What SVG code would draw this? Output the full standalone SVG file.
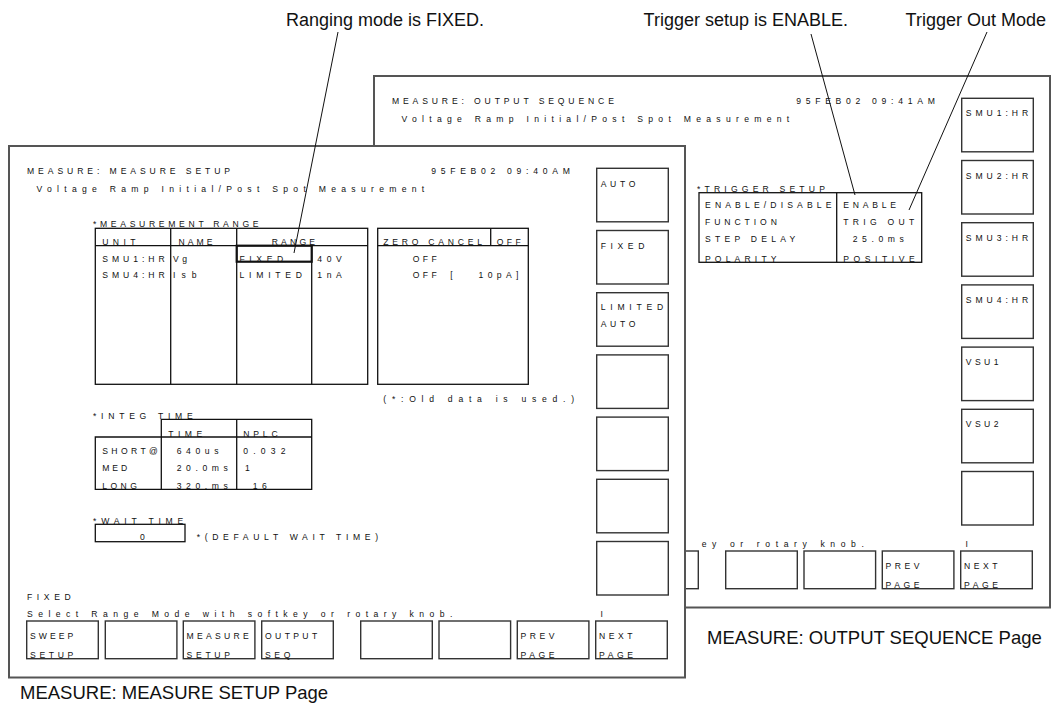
<svg xmlns="http://www.w3.org/2000/svg" width="1054" height="711" viewBox="0 0 1054 711">
<style>
.s{font-family:"Liberation Sans",Arial,sans-serif;font-size:8.6px;fill:#111}
.a{font-family:"Liberation Sans",Arial,sans-serif;font-size:18px;fill:#111}
.c{font-family:"Liberation Sans",Arial,sans-serif;font-size:18.5px;fill:#111}
.panel{fill:#fff;stroke:#555;stroke-width:2}
.ln{fill:none;stroke:#111;stroke-width:1.3}
.key{fill:#fff;stroke:#333;stroke-width:1.4}
.hl{fill:none;stroke:#111;stroke-width:2.2}
.lead{stroke:#111;stroke-width:1;fill:none}
</style>
<rect width="1054" height="711" fill="#fff"/>

<!-- Back panel: MEASURE: OUTPUT SEQUENCE -->
<g id="panel-output-sequence">
<rect class="panel" x="374" y="76" width="676" height="531.5"/>
<text class="s" x="392" y="104" textLength="221.9">MEASURE: OUTPUT SEQUENCE</text>
<text class="s" x="796.2" y="104" textLength="138.6">95FEB02 09:41AM</text>
<text class="s" x="401.4" y="121.7" textLength="387.8">Voltage Ramp Initial/Post Spot Measurement</text>
<g id="trigger-setup">
<text class="s" x="697" y="192.3" textLength="127.9">*TRIGGER SETUP</text>
<rect class="ln" x="699" y="192.7" width="222.7" height="69.6"/>
<line class="ln" x1="836.7" y1="192.7" x2="836.7" y2="262.3"/>
<text class="s" x="705" y="208.3" textLength="126.5">ENABLE/DISABLE</text>
<text class="s" x="705" y="225" textLength="71.9">FUNCTION</text>
<text class="s" x="705" y="241.7" textLength="90.3">STEP DELAY</text>
<text class="s" x="705" y="261.8" textLength="71.5">POLARITY</text>
<text class="s" x="843.3" y="208.3" textLength="52.7">ENABLE</text>
<text class="s" x="843.3" y="225" textLength="71">TRIG OUT</text>
<text class="s" x="852.7" y="241.7" textLength="51.2">25.0ms</text>
<text class="s" x="843.3" y="261.8" textLength="71.5">POSITIVE</text>
</g>
<g id="back-side-keys">
<rect class="key" x="961.7" y="98.3" width="71.6" height="53.5"/>
<text class="s" x="965.7" y="116.3" textLength="62.5">SMU1:HR</text>
<rect class="key" x="961.7" y="160.5" width="71.6" height="53.5"/>
<text class="s" x="965.7" y="178.5" textLength="62.5">SMU2:HR</text>
<rect class="key" x="961.7" y="222.7" width="71.6" height="53.5"/>
<text class="s" x="965.7" y="240.7" textLength="62.5">SMU3:HR</text>
<rect class="key" x="961.7" y="284.9" width="71.6" height="53.5"/>
<text class="s" x="965.7" y="302.9" textLength="62.5">SMU4:HR</text>
<rect class="key" x="961.7" y="347.1" width="71.6" height="53.5"/>
<text class="s" x="965.7" y="365.1" textLength="32.9">VSU1</text>
<rect class="key" x="961.7" y="409.3" width="71.6" height="53.5"/>
<text class="s" x="965.7" y="427.3" textLength="32.9">VSU2</text>
<rect class="key" x="961.7" y="471.5" width="71.6" height="53.5"/>
</g>
<text class="s" x="701.7" y="547.3" textLength="162.2">ey or rotary knob.</text>
<text class="s" x="965.4" y="547.3">I</text>
<g id="back-bottom-keys">
<rect class="key" x="626.7" y="551" width="71.6" height="37.7"/>
<rect class="key" x="725.7" y="551" width="71.6" height="37.7"/>
<rect class="key" x="804" y="551" width="71.6" height="37.7"/>
<rect class="key" x="882.3" y="551" width="71.6" height="37.7"/>
<text class="s" x="885.6" y="569" textLength="33.9">PREV</text>
<text class="s" x="885.6" y="588" textLength="33.9">PAGE</text>
<rect class="key" x="960.7" y="551" width="71.6" height="37.7"/>
<text class="s" x="964" y="569" textLength="33.4">NEXT</text>
<text class="s" x="964" y="588" textLength="33.9">PAGE</text>
</g>
</g>

<!-- Front panel: MEASURE: MEASURE SETUP -->
<g id="panel-measure-setup">
<rect class="panel" x="9" y="146" width="676" height="531.5"/>
<text class="s" x="27" y="174" textLength="203.1">MEASURE: MEASURE SETUP</text>
<text class="s" x="431.2" y="174" textLength="138.6">95FEB02 09:40AM</text>
<text class="s" x="36.4" y="191.7" textLength="387.8">Voltage Ramp Initial/Post Spot Measurement</text>

<g id="measurement-range">
<text class="s" x="93" y="227.3" textLength="165.5">*MEASUREMENT RANGE</text>
<rect class="ln" x="95.3" y="228.3" width="272.4" height="156"/>
<line class="ln" x1="95.3" y1="245.7" x2="367.7" y2="245.7"/>
<line class="ln" x1="170.7" y1="228.3" x2="170.7" y2="384.3"/>
<line class="ln" x1="236.7" y1="228.3" x2="236.7" y2="384.3"/>
<line class="ln" x1="311.7" y1="245.7" x2="311.7" y2="384.3"/>
<text class="s" x="102.2" y="245.2" textLength="33.4">UNIT</text>
<text class="s" x="178.5" y="245.2" textLength="33.9">NAME</text>
<text class="s" x="271.7" y="245.2" textLength="43.3">RANGE</text>
<rect class="hl" x="236.7" y="245.7" width="75" height="16"/>
<text class="s" x="102.2" y="261.7" textLength="62.5">SMU1:HR</text>
<text class="s" x="173" y="261.7" textLength="14.1">Vg</text>
<text class="s" x="239.5" y="261.8" textLength="43.7">FIXED</text>
<text class="s" x="317.3" y="261.7" textLength="24.5">40V</text>
<text class="s" x="102.2" y="277.7" textLength="62.5">SMU4:HR</text>
<text class="s" x="173" y="277.7" textLength="23.5">Isb</text>
<text class="s" x="239.5" y="277.7" textLength="62.5">LIMITED</text>
<text class="s" x="317.3" y="277.7" textLength="24.5">1nA</text>
</g>

<g id="zero-cancel">
<rect class="ln" x="377.7" y="228.3" width="150.6" height="156"/>
<line class="ln" x1="377.7" y1="245.7" x2="528.3" y2="245.7"/>
<line class="ln" x1="490.7" y1="228.3" x2="490.7" y2="245.7"/>
<text class="s" x="383.3" y="245.2" textLength="98.7">ZERO CANCEL</text>
<text class="s" x="496.7" y="245.2" textLength="24">OFF</text>
<text class="s" x="412.7" y="261.7" textLength="24">OFF</text>
<text class="s" x="412.7" y="277.7" textLength="24">OFF</text>
<text class="s" x="450.3" y="277.7">[</text>
<text class="s" x="478.5" y="277.7" textLength="40">10pA]</text>
<text class="s" x="383.3" y="401.7" textLength="190.8">(*:Old data is used.)</text>
</g>

<g id="integ-time">
<text class="s" x="93" y="419" textLength="99.7">*INTEG TIME</text>
<path class="ln" d="M161.3 489.3V419.3H311.7V489.3H95.3V437H311.7"/>
<line class="ln" x1="236.7" y1="419.3" x2="236.7" y2="489.3"/>
<text class="s" x="168.3" y="436.7" textLength="33.9">TIME</text>
<text class="s" x="243.3" y="436.7" textLength="34.3">NPLC</text>
<text class="s" x="102.2" y="454" textLength="55.6">SHORT@</text>
<text class="s" x="176.7" y="454" textLength="41.8">640us</text>
<text class="s" x="243.3" y="454" textLength="42.3">0.032</text>
<text class="s" x="102.2" y="471" textLength="24.9">MED</text>
<text class="s" x="176.7" y="471" textLength="51.2">20.0ms</text>
<text class="s" x="245" y="471">1</text>
<text class="s" x="102.2" y="489.2" textLength="34.8">LONG</text>
<text class="s" x="176.7" y="489.2" textLength="51.2">320.ms</text>
<text class="s" x="252.7" y="489.2" textLength="14.1">16</text>
</g>

<g id="wait-time">
<text class="s" x="93" y="524.2" textLength="90.3">*WAIT TIME</text>
<rect class="ln" x="95.3" y="524.3" width="89.7" height="17.4"/>
<text class="s" x="140" y="540">0</text>
<text class="s" x="196.7" y="540" textLength="181.4">*(DEFAULT WAIT TIME)</text>
</g>

<g id="front-side-keys">
<rect class="key" x="596.7" y="168.3" width="71.6" height="53.5"/>
<text class="s" x="600.7" y="186.5" textLength="34.8">AUTO</text>
<rect class="key" x="596.7" y="230.5" width="71.6" height="53.5"/>
<text class="s" x="600.7" y="248.7" textLength="43.7">FIXED</text>
<rect class="key" x="596.7" y="292.7" width="71.6" height="53.5"/>
<text class="s" x="600.7" y="310" textLength="62.5">LIMITED</text>
<text class="s" x="600.7" y="327" textLength="34.8">AUTO</text>
<rect class="key" x="596.7" y="354.9" width="71.6" height="53.5"/>
<rect class="key" x="596.7" y="417.1" width="71.6" height="53.5"/>
<rect class="key" x="596.7" y="479.3" width="71.6" height="53.5"/>
<rect class="key" x="596.7" y="541.5" width="71.6" height="53.5"/>
</g>

<text class="s" x="27" y="600" textLength="43.7">FIXED</text>
<text class="s" x="27" y="617.3" textLength="425.4">Select Range Mode with softkey or rotary knob.</text>
<text class="s" x="600.4" y="617.3">I</text>

<g id="front-bottom-keys">
<rect class="key" x="26.7" y="621" width="71.6" height="37.7"/>
<text class="s" x="30" y="639" textLength="43.3">SWEEP</text>
<text class="s" x="30" y="658" textLength="43.3">SETUP</text>
<rect class="key" x="105.3" y="621" width="71.6" height="37.7"/>
<rect class="key" x="183.3" y="621" width="71.6" height="37.7"/>
<text class="s" x="186.6" y="639" textLength="62.1">MEASURE</text>
<text class="s" x="186.6" y="658" textLength="43.3">SETUP</text>
<rect class="key" x="261.7" y="621" width="71.6" height="37.7"/>
<text class="s" x="265" y="639" textLength="52.2">OUTPUT</text>
<text class="s" x="265" y="658" textLength="25.4">SEQ</text>
<rect class="key" x="360.7" y="621" width="71.6" height="37.7"/>
<rect class="key" x="439" y="621" width="71.6" height="37.7"/>
<rect class="key" x="517.3" y="621" width="71.6" height="37.7"/>
<text class="s" x="520.6" y="639" textLength="33.9">PREV</text>
<text class="s" x="520.6" y="658" textLength="33.9">PAGE</text>
<rect class="key" x="595.7" y="621" width="71.6" height="37.7"/>
<text class="s" x="599" y="639" textLength="33.4">NEXT</text>
<text class="s" x="599" y="658" textLength="33.9">PAGE</text>
</g>
</g>

<!-- Annotations -->
<g id="annotations">
<text class="a" x="286" y="26">Ranging mode is FIXED.</text>
<text class="a" x="848" y="26" text-anchor="end">Trigger setup is ENABLE.</text>
<text class="a" x="1046" y="26" text-anchor="end">Trigger Out Mode</text>
<text class="c" x="707" y="644">MEASURE: OUTPUT SEQUENCE Page</text>
<text class="c" x="20" y="699">MEASURE: MEASURE SETUP Page</text>
</g>

<g id="connectors">
<line class="lead" x1="338" y1="32" x2="294" y2="253"/>
<line class="lead" x1="811" y1="34" x2="855" y2="195"/>
<line class="lead" x1="987" y1="32" x2="909" y2="210"/>
</g>
</svg>
